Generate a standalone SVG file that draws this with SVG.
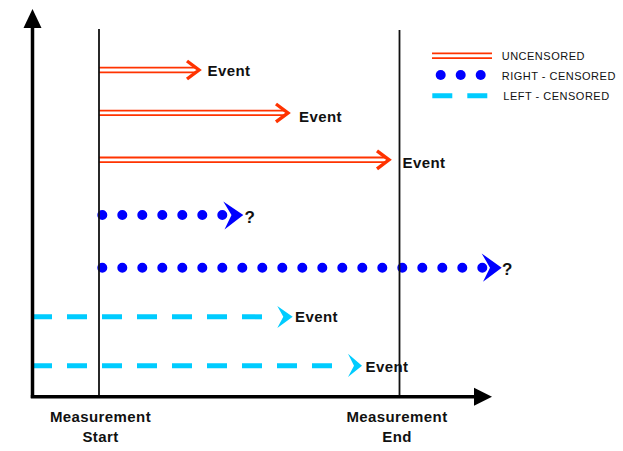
<svg xmlns="http://www.w3.org/2000/svg" width="623" height="451" viewBox="0 0 623 451">
<style>
.lbl{font-family:"Liberation Sans",Arial,sans-serif;font-size:15px;font-weight:bold;fill:#111;letter-spacing:0.4px}
.q{font-family:"Liberation Sans",Arial,sans-serif;font-size:17px;font-weight:bold;fill:#111}
.leg{font-family:"Liberation Sans",Arial,sans-serif;font-size:11px;fill:#111;letter-spacing:0.5px}
.red{stroke:#ff3300;stroke-width:1.8;fill:none}
.redhead{stroke:#ff3300;stroke-width:3.4;fill:none;stroke-linejoin:miter}
.dots{stroke:#0000ff;stroke-width:10;stroke-linecap:round;stroke-dasharray:0 20;fill:none}
.dash{stroke:#00ccff;stroke-width:5;stroke-dasharray:20 15;fill:none}
.bluehead{fill:#0000ff}
.cyanhead{fill:#00ccff}
.vline{stroke:#111;stroke-width:1.8}
.axis{stroke:#000;stroke-width:3.5}
</style>
<rect width="623" height="451" fill="#fff"/>
<g id="connectors">
  <g id="unc1">
    <line class="red" x1="99" y1="67.7" x2="196" y2="67.7"/>
    <line class="red" x1="99" y1="72.3" x2="196" y2="72.3"/>
    <path class="redhead" d="M187,61 L199,70 L187,79"/>
  </g>
  <g id="unc2">
    <line class="red" x1="99" y1="110.6" x2="285" y2="110.6"/>
    <line class="red" x1="99" y1="115.2" x2="285" y2="115.2"/>
    <path class="redhead" d="M276,104 L288,112.9 L276,121.8"/>
  </g>
  <g id="unc3">
    <line class="red" x1="99" y1="157.5" x2="386" y2="157.5"/>
    <line class="red" x1="99" y1="162.1" x2="386" y2="162.1"/>
    <path class="redhead" d="M377,150.8 L389,159.8 L377,168.8"/>
  </g>
  <g id="rc1">
    <line class="dots" x1="102.3" y1="215" x2="222.4" y2="215"/>
    <polygon class="bluehead" points="223.3,201.5 243.3,215 224.5,229.5 231.5,215"/>
  </g>
  <g id="rc2">
    <line class="dots" x1="102.3" y1="267.8" x2="482.4" y2="267.8"/>
    <polygon class="bluehead" points="481.7,253.5 501.7,267.8 483,281.8 490,267.8"/>
  </g>
  <g id="lc1">
    <line class="dash" x1="32" y1="316.8" x2="262" y2="316.8"/>
    <polygon class="cyanhead" points="277.3,306 292.7,316.8 277.3,328 283.3,316.8"/>
  </g>
  <g id="lc2">
    <line class="dash" x1="32" y1="365.8" x2="332" y2="365.8"/>
    <polygon class="cyanhead" points="348,353.8 362,365.8 348,377 354,365.8"/>
  </g>
</g>
<g id="axes">
  <line class="vline" x1="99" y1="29" x2="99" y2="397"/>
  <line class="vline" x1="399.5" y1="30" x2="399.5" y2="397"/>
  <line class="axis" x1="32.5" y1="27" x2="32.5" y2="398"/>
  <polygon points="32.5,9 41.5,28 23.5,28" fill="#000"/>
  <line class="axis" x1="30.8" y1="396.7" x2="476" y2="396.7"/>
  <polygon points="492,396.7 474,387.7 474,405.7" fill="#000"/>
</g>
<g id="labels">
  <text class="lbl" x="207.5" y="76">Event</text>
  <text class="lbl" x="299" y="121.7">Event</text>
  <text class="lbl" x="402.5" y="168.3">Event</text>
  <text class="q" x="244.5" y="222.5">?</text>
  <text class="q" x="502" y="275">?</text>
  <text class="lbl" x="295" y="322.3">Event</text>
  <text class="lbl" x="365.5" y="371.7">Event</text>
  <text class="lbl" x="100.5" y="422" text-anchor="middle">Measurement</text>
  <text class="lbl" x="100.5" y="441.7" text-anchor="middle">Start</text>
  <text class="lbl" x="397" y="422" text-anchor="middle">Measurement</text>
  <text class="lbl" x="397" y="441.7" text-anchor="middle">End</text>
</g>
<g id="legend">
  <line class="red" x1="432" y1="53.4" x2="492" y2="53.4"/>
  <line class="red" x1="432" y1="58.2" x2="492" y2="58.2"/>
  <text class="leg" x="501.7" y="59.5">UNCENSORED</text>
  <circle cx="440.7" cy="75" r="5" fill="#0000ff"/>
  <circle cx="460.7" cy="75" r="5" fill="#0000ff"/>
  <circle cx="480.7" cy="75" r="5" fill="#0000ff"/>
  <text class="leg" x="501.7" y="80">RIGHT - CENSORED</text>
  <line class="dash" x1="432.3" y1="95.7" x2="487.3" y2="95.7"/>
  <text class="leg" x="503.3" y="99.5">LEFT - CENSORED</text>
</g>
</svg>
